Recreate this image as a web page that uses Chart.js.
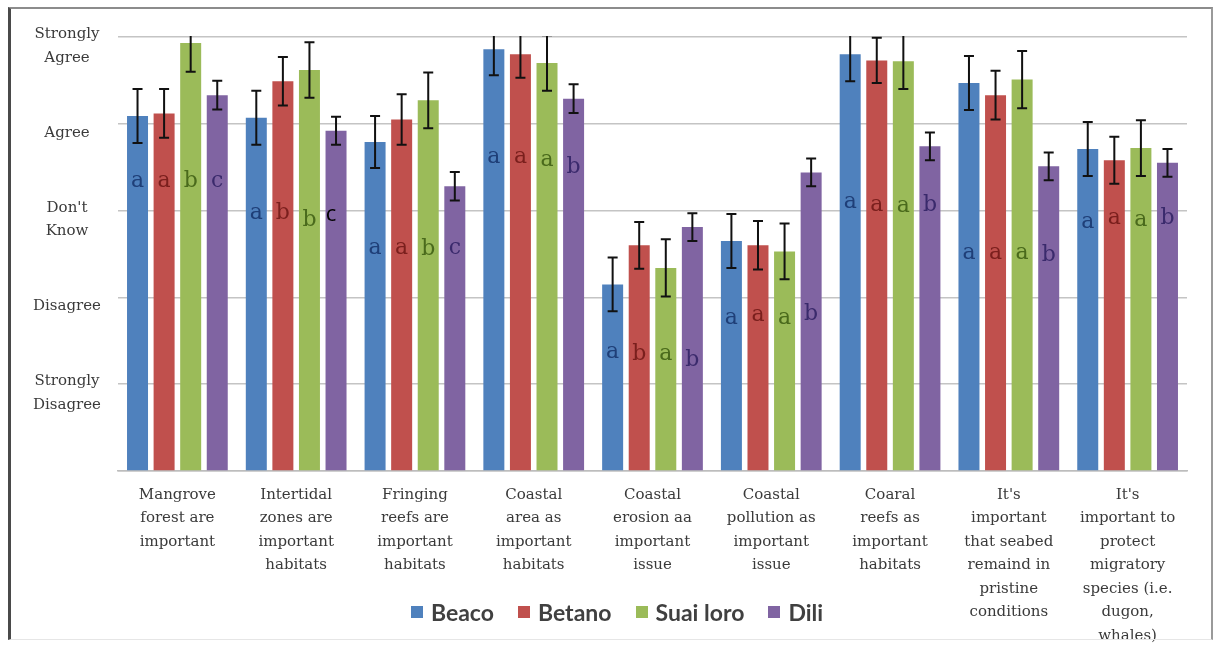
<!DOCTYPE html>
<html>
<head>
<meta charset="utf-8">
<script src="https://cdn.jsdelivr.net/npm/chart.js@4.4.1/dist/chart.umd.min.js"></script>
<style>
  html, body { margin: 0; padding: 0; background: #fff; }
  #wrap { position: relative; width: 1218px; height: 646px; overflow: hidden; }
  #frame {
    position: absolute; left: 8px; top: 7px; width: 1205px; height: 633px;
    box-sizing: border-box; pointer-events: none;
    border-left: 3px solid #4a4a4a; border-top: 2px solid #8c8c8c;
    border-right: 2px solid #9a9a9a; border-bottom: 1px solid #e6e6e6;
  }
  canvas { position: absolute; left: 0; top: 0; }
  #legend {
    position: absolute; left: 0; top: 597px; width: 1218px; height: 30px;
    box-sizing: border-box; padding-left: 16px;
    display: flex; justify-content: center; align-items: center;
    font: bold 23px Lato, sans-serif; color: #404040;
  }
  #legend .item { display: flex; align-items: center; margin: 0 12px; }
  #legend .box { width: 12px; height: 12px; margin-right: 8px; }
</style>
</head>
<body>
<div id="wrap">
  <canvas id="chart" width="1218" height="646"></canvas>
  <div id="legend"></div>
  <div id="frame"></div>
</div>
<script>
// statements on the x axis
const categories = [
  ['Mangrove', 'forest are', 'important'],
  ['Intertidal', 'zones are', 'important', 'habitats'],
  ['Fringing', 'reefs are', 'important', 'habitats'],
  ['Coastal', 'area as', 'important', 'habitats'],
  ['Coastal', 'erosion aa', 'important', 'issue'],
  ['Coastal', 'pollution as', 'important', 'issue'],
  ['Coaral', 'reefs as', 'important', 'habitats'],
  ["It's", 'important', 'that seabed', 'remaind in', 'pristine', 'conditions'],
  ["It's", 'important to', 'protect', 'migratory', 'species (i.e.', 'dugon,', 'whales)']
];

// likert scale labels (1..5)
const yLabels = ['', ['Strongly', 'Disagree'], 'Disagree', ["Don't", 'Know'], 'Agree', ['Strongly', 'Agree']];

const seriesNames = ['Beaco', 'Betano', 'Suai loro', 'Dili'];
const seriesColors = ['#4f81bd', '#c0504d', '#9bbb59', '#8064a2'];
const letterColors = ['#1f3f78', '#7a1f1d', '#4a6a1c', '#3a2a6c'];

// mean scores
const beaco    = [4.09, 4.07, 3.79, 4.86, 2.15, 2.65, 4.80, 4.47, 3.71];
const betano   = [4.12, 4.49, 4.05, 4.80, 2.60, 2.60, 4.73, 4.33, 3.58];
const suaiLoro = [4.93, 4.62, 4.27, 4.70, 2.34, 2.53, 4.72, 4.51, 3.72];
const dili     = [4.33, 3.92, 3.28, 4.29, 2.81, 3.44, 3.74, 3.51, 3.55];

// error (+/-)
const beacoErr    = [0.31, 0.31, 0.30, 0.30, 0.31, 0.31, 0.31, 0.31, 0.31];
const betanoErr   = [0.28, 0.28, 0.29, 0.27, 0.27, 0.28, 0.26, 0.28, 0.27];
const suaiLoroErr = [0.33, 0.32, 0.32, 0.32, 0.33, 0.32, 0.32, 0.33, 0.32];
const diliErr     = [0.165, 0.16, 0.165, 0.165, 0.16, 0.16, 0.16, 0.16, 0.16];

// significance letters per group, and the level they sit at
const groupLetters = [
  ['a', 'a', 'b', 'c'], ['a', 'b', 'b', 'c'], ['a', 'a', 'b', 'c'],
  ['a', 'a', 'a', 'b'], ['a', 'b', 'a', 'b'], ['a', 'a', 'a', 'b'],
  ['a', 'a', 'a', 'b'], ['a', 'a', 'a', 'b'], ['a', 'a', 'a', 'b']
];
const letterLevel = [
  [3.34, 3.34, 3.34, 3.34], [2.97, 2.97, 2.89, 2.95], [2.57, 2.57, 2.55, 2.57],
  [3.62, 3.62, 3.58, 3.50], [1.37, 1.34, 1.34, 1.28], [1.76, 1.79, 1.76, 1.80],
  [3.10, 3.06, 3.05, 3.06], [2.51, 2.51, 2.51, 2.49], [2.87, 2.91, 2.89, 2.91]
];

const values = [beaco, betano, suaiLoro, dili];
const errors = [beacoErr, betanoErr, suaiLoroErr, diliErr];

const errorBars = {
  id: 'errorBars',
  afterDatasetsDraw(chart) {
    const { ctx, chartArea, scales: { y } } = chart;
    ctx.save();
    ctx.beginPath();
    ctx.rect(chartArea.left, chartArea.top - 1, chartArea.right - chartArea.left, chartArea.bottom - chartArea.top + 1);
    ctx.clip();
    ctx.strokeStyle = '#111';
    ctx.lineWidth = 2;
    chart.data.datasets.forEach((ds, di) => {
      chart.getDatasetMeta(di).data.forEach((bar, i) => {
        const top = y.getPixelForValue(ds.data[i] + ds.errors[i]);
        const bot = y.getPixelForValue(ds.data[i] - ds.errors[i]);
        ctx.beginPath();
        ctx.moveTo(bar.x, top); ctx.lineTo(bar.x, bot);
        ctx.moveTo(bar.x - 5, top); ctx.lineTo(bar.x + 5, top);
        ctx.moveTo(bar.x - 5, bot); ctx.lineTo(bar.x + 5, bot);
        ctx.stroke();
      });
    });
    ctx.restore();

    // letters
    ctx.save();
    ctx.textAlign = 'center';
    ctx.textBaseline = 'middle';
    chart.data.datasets.forEach((ds, di) => {
      chart.getDatasetMeta(di).data.forEach((bar, i) => {
        const ly = y.getPixelForValue(letterLevel[i][di]);
        // the odd black "c" in the second group
        if (i === 1 && di === 3) {
          ctx.font = '22px "Open Sans"';
          ctx.fillStyle = '#000';
          ctx.fillText(groupLetters[i][di], bar.x - 5, ly);
        } else {
          ctx.font = '22px "DejaVu Serif"';
          ctx.fillStyle = letterColors[di];
          ctx.fillText(groupLetters[i][di], bar.x, ly);
        }
      });
    });
    ctx.restore();
  }
};

// legend as html, so it can sit beside the long axis labels
const legendEl = document.getElementById('legend');
seriesNames.forEach((name, k) => {
  const item = document.createElement('div');
  item.className = 'item';
  item.innerHTML = `<span class="box" style="background:${seriesColors[k]}"></span><span>${name}</span>`;
  legendEl.appendChild(item);
});

new Chart(document.getElementById('chart'), {
  type: 'bar',
  data: {
    labels: categories,
    datasets: seriesNames.map((name, k) => ({
      label: name,
      data: values[k],
      errors: errors[k],
      backgroundColor: seriesColors[k],
      borderWidth: 0,
      categoryPercentage: 0.895,
      barPercentage: 0.79
    }))
  },
  options: {
    responsive: false,
    animation: false,
    layout: { padding: { left: 0, right: 31, top: 37, bottom: 0 } },
    plugins: {
      tooltip: { enabled: false },
      legend: { display: false }
    },
    scales: {
      x: {
        afterFit(s) { s.height = 175; },
        grid: { display: false, drawTicks: false },
        border: { display: true, color: '#bdbdbd', width: 1.5 },
        ticks: {
          autoSkip: false, maxRotation: 0, minRotation: 0, padding: 12,
          color: '#3a3a3a',
          font: { family: 'DejaVu Serif', size: 15, lineHeight: 1.57 }
        }
      },
      y: {
        min: 0,
        max: 5,
        afterFit(s) { s.width = 118; s.paddingTop = 0; s.paddingBottom = 0; },
        grid: { color: '#c4c4c4', lineWidth: 1.5, drawTicks: false },
        border: { display: false },
        ticks: {
          stepSize: 1,
          crossAlign: 'center',
          padding: 17,
          labelOffset: 9,
          color: '#3a3a3a',
          font: { family: 'DejaVu Serif', size: 15, lineHeight: 1.55 },
          callback: v => yLabels[v]
        }
      }
    }
  },
  plugins: [errorBars]
});
</script>
</body>
</html>
